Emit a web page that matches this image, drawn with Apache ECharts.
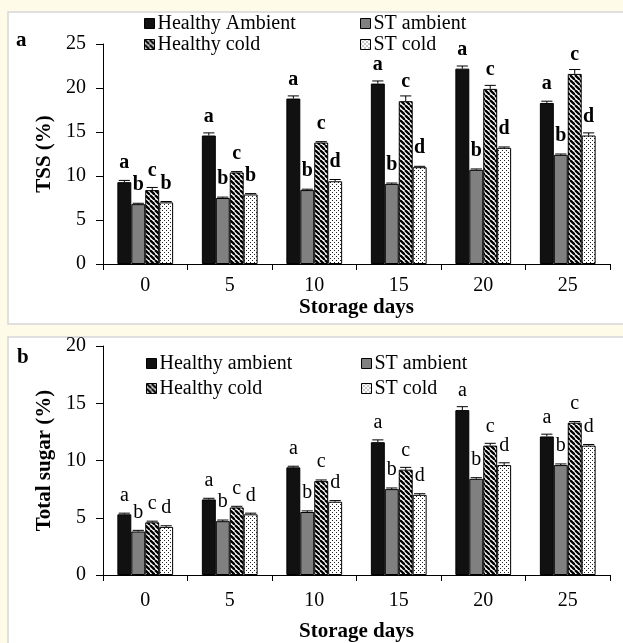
<!DOCTYPE html>
<html>
<head>
<meta charset="utf-8">
<script src="https://cdn.jsdelivr.net/npm/echarts@6/dist/echarts.min.js"></script>
<style>html,body{margin:0;padding:0;background:#fefbe8;}#c{width:623px;height:643px;}</style>
</head>
<body>
<div id="c"></div>
<script>
// ---- data ----
const days = ['0', '5', '10', '15', '20', '25'];
const namesA = ['Healthy Ambient', 'ST ambient', 'Healthy cold', 'ST cold'];
const namesB = ['Healthy ambient', 'ST ambient', 'Healthy cold', 'ST cold'];

const tssHealthyAmbient = [9.3, 14.6, 18.8, 20.5, 22.2, 18.3];
const tssSTAmbient      = [6.8, 7.5, 8.4, 9.1, 10.7, 12.4];
const tssHealthyCold    = [8.4, 10.4, 13.8, 18.5, 19.9, 21.6];
const tssSTCold         = [7.0, 7.9, 9.4, 11.0, 13.2, 14.6];
const tssErrHA  = [0.2, 0.3, 0.3, 0.3, 0.3, 0.2];
const tssErrSTA = [0.1, 0.1, 0.1, 0.1, 0.1, 0.1];
const tssErrHC  = [0.3, 0.1, 0.1, 0.6, 0.4, 0.5];
const tssErrSTC = [0.1, 0.1, 0.2, 0.1, 0.1, 0.3];
const tssLetters = [
  ['a','a','a','a','a','a'],
  ['b','b','b','b','b','b'],
  ['c','c','c','c','c','c'],
  ['b','b','d','d','d','d']
];

const sugHealthyAmbient = [5.3, 6.6, 9.4, 11.6, 14.4, 12.1];
const sugSTAmbient      = [3.8, 4.7, 5.5, 7.5, 8.4, 9.6];
const sugHealthyCold    = [4.6, 5.9, 8.2, 9.2, 11.3, 13.3];
const sugSTCold         = [4.2, 5.3, 6.4, 7.0, 9.6, 11.3];
const sugErrHA  = [0.1, 0.1, 0.1, 0.2, 0.3, 0.2];
const sugErrSTA = [0.1, 0.1, 0.1, 0.1, 0.1, 0.1];
const sugErrHC  = [0.1, 0.1, 0.1, 0.2, 0.2, 0.1];
const sugErrSTC = [0.1, 0.1, 0.1, 0.1, 0.2, 0.1];
const sugLetters = [
  ['a','a','a','a','a','a'],
  ['b','b','b','b','b','b'],
  ['c','c','c','c','c','c'],
  ['d','d','d','d','d','d']
];
const yTicksA = {min: 0, max: 25, interval: 5};
const yTicksB = {min: 0, max: 20, interval: 5};

// ---- patterns ----
function stripeCanvas() {
  const c = document.createElement('canvas'); c.width = 5; c.height = 5;
  const g = c.getContext('2d');
  g.fillStyle = '#fff'; g.fillRect(0, 0, 5, 5);
  g.strokeStyle = '#000'; g.lineWidth = 2.3;
  for (const x of [-5, 0, 5]) { g.beginPath(); g.moveTo(x, 0); g.lineTo(x + 5, 5); g.stroke(); }
  return c;
}
function dotCanvas() {
  const c = document.createElement('canvas'); c.width = 4; c.height = 4;
  const g = c.getContext('2d');
  g.fillStyle = '#fff'; g.fillRect(0, 0, 4, 4);
  g.fillStyle = '#222'; g.fillRect(0, 0, 1, 1); g.fillRect(2, 2, 1, 1);
  return c;
}
const fills = ['#111111', '#808080', {image: stripeCanvas(), repeat: 'repeat'}, {image: dotCanvas(), repeat: 'repeat'}];

const FONT = 'Liberation Serif';
const CAT_GAP = 0.34;

function barSeries(names, datas, letters, axisIdx, bold) {
  return datas.map((d, si) => ({
    type: 'bar', name: names[si], data: d,
    xAxisIndex: axisIdx, yAxisIndex: axisIdx,
    barGap: '0%', barCategoryGap: (CAT_GAP * 100) + '%',
    itemStyle: {color: fills[si], borderColor: '#000', borderWidth: 1},
    label: {show: true, position: 'top', distance: 9, color: '#000',
      fontFamily: FONT, fontSize: 20, fontWeight: bold ? 'bold' : 'normal',
      formatter: p => letters[si][p.dataIndex]},
    emphasis: {disabled: true}
  }));
}
function errSeries(datas, errs, axisIdx) {
  const data = [];
  datas.forEach((d, si) => d.forEach((v, ci) => data.push([ci, si, v, errs[si][ci]])));
  return {
    type: 'custom', xAxisIndex: axisIdx, yAxisIndex: axisIdx, z: 5, silent: true,
    data: data,
    renderItem: (params, api) => {
      const ci = api.value(0), si = api.value(1), v = api.value(2), e = api.value(3);
      const bw = api.size([1, 0])[0] * (1 - CAT_GAP) / 4;
      const x = api.coord([ci, v])[0] + (si - 1.5) * bw;
      const y1 = api.coord([ci, v + e])[1], y0 = api.coord([ci, v])[1];
      const cap = bw * 0.4;
      const st = {stroke: '#000', lineWidth: 1};
      return {type: 'group', children: [
        {type: 'line', shape: {x1: x, y1: y0, x2: x, y2: y1}, style: st},
        {type: 'line', shape: {x1: x - cap, y1: y1, x2: x + cap, y2: y1}, style: st}
      ]};
    }
  };
}

function xAxis(gridIndex, margin, nameGap) {
  return {
    type: 'category', data: days, gridIndex: gridIndex,
    name: 'Storage days', nameLocation: 'middle', nameGap: nameGap,
    nameTextStyle: {fontFamily: FONT, fontSize: 21, fontWeight: 'bold', color: '#000'},
    axisLine: {lineStyle: {color: '#000', width: 1}},
    axisTick: {show: true, length: 6, lineStyle: {color: '#000'}},
    axisLabel: {fontFamily: FONT, fontSize: 20, color: '#000', margin: margin}
  };
}
function yAxis(gridIndex, ticks, name) {
  return {
    type: 'value', gridIndex: gridIndex, min: ticks.min, max: ticks.max, interval: ticks.interval,
    name: name, nameLocation: 'middle', nameGap: 37, nameRotate: 90,
    nameTextStyle: {fontFamily: FONT, fontSize: 21, fontWeight: 'bold', color: '#000'},
    splitLine: {show: false},
    axisLine: {show: true, lineStyle: {color: '#000', width: 1}},
    axisTick: {show: true, length: 7, lineStyle: {color: '#000'}},
    axisLabel: {fontFamily: FONT, fontSize: 20, color: '#000', margin: 17}
  };
}
function legend(data, left, top, gap) {
  return {
    data: data, orient: 'vertical', left: left, top: top, itemGap: gap, padding: 0,
    itemWidth: 10, itemHeight: 10, icon: 'rect', selectedMode: false,
    itemStyle: {borderColor: '#000', borderWidth: 1},
    textStyle: {fontFamily: FONT, fontSize: 20, lineHeight: 21, color: '#000', padding: [0, 0, 0, -2]}
  };
}

const chart = echarts.init(document.getElementById('c'), null, {renderer: 'canvas'});
const dataA = [tssHealthyAmbient, tssSTAmbient, tssHealthyCold, tssSTCold];
const errA = [tssErrHA, tssErrSTA, tssErrHC, tssErrSTC];
const dataB = [sugHealthyAmbient, sugSTAmbient, sugHealthyCold, sugSTCold];
const errB = [sugErrHA, sugErrSTA, sugErrHC, sugErrSTC];

chart.setOption({
  backgroundColor: '#fefbe8',
  animation: false,
  graphic: [
    {type: 'rect', z: -10, shape: {x: 8, y: 12, width: 640, height: 312}, style: {fill: '#fff', stroke: '#d6d6d6', lineWidth: 1.5}},
    {type: 'rect', z: -10, shape: {x: 8, y: 337, width: 640, height: 330}, style: {fill: '#fff', stroke: '#d6d6d6', lineWidth: 1.5}},
    {type: 'text', left: 16, top: 30, style: {text: 'a', font: 'bold 21px "Liberation Serif"', fill: '#000'}},
    {type: 'text', left: 17, top: 347, style: {text: 'b', font: 'bold 21px "Liberation Serif"', fill: '#000'}}
  ],
  legend: [
    legend([namesA[0], namesA[2]], 144, 13, 0),
    legend([namesA[1], namesA[3]], 360, 13, 0),
    legend([namesB[0], namesB[2]], 146, 353, 4),
    legend([namesB[1], namesB[3]], 361, 353, 4)
  ],
  grid: [
    {left: 103, right: 13, top: 44, height: 220},
    {left: 103, right: 13, top: 346, height: 233}
  ],
  xAxis: [xAxis(0, 12, 27), xAxis(1, 16, 46)],
  yAxis: [yAxis(0, yTicksA, 'TSS (%)'), yAxis(1, yTicksB, 'Total sugar (%)')],
  series: [
    ...barSeries(namesA, dataA, tssLetters, 0, true),
    errSeries(dataA, errA, 0),
    ...barSeries(namesB, dataB, sugLetters, 1, false),
    errSeries(dataB, errB, 1)
  ]
});
</script>
</body>
</html>
